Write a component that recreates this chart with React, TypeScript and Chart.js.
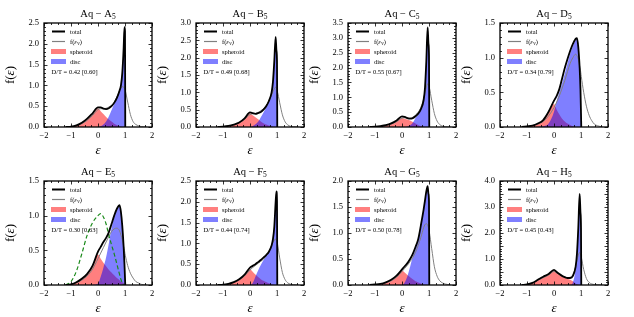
import React, { useEffect, useRef } from "react";
import { Chart, registerables } from "chart.js";
Chart.register(...registerables);

const FONT = "'Liberation Serif', 'Times New Roman', serif";

// shared epsilon grid
const X = [-1.2, -1.0, -0.8, -0.6, -0.4, -0.2, 0.0, 0.1, 0.2, 0.3, 0.4, 0.5, 0.6, 0.7, 0.8, 0.85, 0.9, 0.95, 0.98, 1.0, 1.01, 1.1, 1.2, 1.3, 1.4, 1.5, 1.6, 1.8];

const A_total = [0, 0.01, 0.04, 0.10, 0.20, 0.33, 0.47, 0.47, 0.44, 0.43, 0.45, 0.50, 0.58, 0.70, 0.88, 1.00, 1.30, 1.90, 2.40, 2.30, 0];
const A_sph = [0, 0.01, 0.04, 0.10, 0.19, 0.30, 0.45, 0.38, 0.31, 0.24, 0.18, 0.13, 0.08, 0.05, 0.02, 0.01, 0, 0, 0, 0, 0];
const A_disc = [0, 0, 0, 0, 0, 0, 0, 0.02, 0.06, 0.13, 0.25, 0.40, 0.55, 0.68, 0.86, 1.00, 1.30, 1.90, 2.40, 2.30, 0];
const A_fv = [0, 0.01, 0.03, 0.08, 0.16, 0.28, 0.42, 0.44, 0.44, 0.45, 0.48, 0.52, 0.60, 0.72, 0.88, 0.94, 0.97, 0.96, 0.93, 0.90, 0.88, 0.60, 0.30, 0.13, 0.06, 0.03, 0.01, 0];

const B_total = [0, 0.01, 0.03, 0.07, 0.13, 0.25, 0.42, 0.40, 0.38, 0.40, 0.43, 0.50, 0.60, 0.75, 1.00, 1.30, 1.90, 2.60, 2.20, 1.90, 0];
const B_sph = [0, 0.01, 0.03, 0.07, 0.13, 0.24, 0.40, 0.34, 0.28, 0.22, 0.16, 0.11, 0.07, 0.04, 0.02, 0.01, 0, 0, 0, 0, 0];
const B_disc = [0, 0, 0, 0, 0, 0, 0, 0.03, 0.08, 0.15, 0.28, 0.42, 0.57, 0.74, 1.00, 1.30, 1.90, 2.60, 2.20, 1.90, 0];
const B_fv = [0, 0.01, 0.03, 0.06, 0.12, 0.22, 0.36, 0.38, 0.39, 0.42, 0.47, 0.53, 0.62, 0.75, 0.92, 1.02, 1.10, 1.15, 1.12, 1.08, 1.05, 0.70, 0.35, 0.15, 0.06, 0.02, 0.01, 0];

const C_total = [0, 0.01, 0.03, 0.06, 0.12, 0.22, 0.36, 0.34, 0.30, 0.28, 0.30, 0.36, 0.45, 0.60, 0.90, 1.30, 2.20, 3.35, 2.80, 2.40, 0];
const C_sph = [0, 0.01, 0.03, 0.06, 0.11, 0.20, 0.30, 0.28, 0.25, 0.22, 0.17, 0.12, 0.07, 0.03, 0.01, 0, 0, 0, 0, 0, 0];
const C_disc = [0, 0, 0, 0, 0, 0, 0, 0, 0.02, 0.06, 0.14, 0.30, 0.42, 0.58, 0.88, 1.30, 2.20, 3.35, 2.80, 2.40, 0];
const C_fv = [0, 0.01, 0.02, 0.05, 0.10, 0.18, 0.30, 0.31, 0.30, 0.30, 0.33, 0.40, 0.50, 0.66, 0.95, 1.15, 1.35, 1.45, 1.42, 1.38, 1.35, 0.90, 0.45, 0.20, 0.08, 0.03, 0.01, 0];

const D_total = [0, 0.01, 0.02, 0.05, 0.10, 0.22, 0.38, 0.45, 0.55, 0.70, 0.85, 0.98, 1.10, 1.20, 1.27, 1.28, 1.15, 0.85, 0.55, 0.20, 0];
const D_sph = [0, 0.01, 0.02, 0.05, 0.10, 0.20, 0.33, 0.25, 0.18, 0.12, 0.08, 0.05, 0.03, 0.01, 0, 0, 0, 0, 0, 0, 0];
const D_disc = [0, 0, 0, 0, 0.01, 0.05, 0.22, 0.38, 0.50, 0.63, 0.77, 0.92, 1.06, 1.17, 1.25, 1.27, 1.15, 0.85, 0.55, 0.20, 0];
const D_fv = [0, 0.01, 0.02, 0.04, 0.08, 0.16, 0.28, 0.36, 0.45, 0.56, 0.67, 0.80, 0.92, 1.00, 1.05, 1.03, 0.98, 0.88, 0.82, 0.76, 0.73, 0.50, 0.30, 0.17, 0.09, 0.04, 0.02, 0];

const E_total = [0, 0.01, 0.04, 0.09, 0.16, 0.28, 0.48, 0.55, 0.62, 0.68, 0.76, 0.88, 1.00, 1.10, 1.15, 1.05, 0.85, 0.55, 0.30, 0.10, 0];
const E_sph = [0, 0.01, 0.04, 0.09, 0.16, 0.27, 0.44, 0.38, 0.32, 0.27, 0.22, 0.18, 0.14, 0.10, 0.07, 0.05, 0.04, 0.03, 0.02, 0.02, 0];
const E_disc = [0, 0, 0, 0, 0, 0, 0.02, 0.12, 0.25, 0.40, 0.60, 0.82, 0.98, 1.08, 1.14, 1.05, 0.85, 0.55, 0.30, 0.10, 0];
const E_fv = [0, 0.01, 0.03, 0.07, 0.13, 0.23, 0.38, 0.46, 0.54, 0.62, 0.70, 0.77, 0.81, 0.82, 0.78, 0.72, 0.65, 0.55, 0.50, 0.45, 0.43, 0.28, 0.17, 0.10, 0.05, 0.03, 0.01, 0];
const E_model = [0, 0.05, 0.20, 0.45, 0.72, 0.90, 1.00, 1.03, 0.98, 0.88, 0.72, 0.58, 0.45, 0.30, 0.15, 0.08, 0.03, 0];

const F_total = [0, 0.01, 0.03, 0.07, 0.14, 0.25, 0.42, 0.46, 0.50, 0.55, 0.60, 0.66, 0.72, 0.80, 0.95, 1.10, 1.40, 2.00, 2.25, 2.00, 0];
const F_sph = [0, 0.01, 0.03, 0.07, 0.13, 0.23, 0.38, 0.32, 0.25, 0.19, 0.14, 0.10, 0.07, 0.04, 0.02, 0.01, 0, 0, 0, 0, 0];
const F_disc = [0, 0, 0, 0, 0, 0, 0, 0.05, 0.20, 0.35, 0.48, 0.60, 0.70, 0.78, 0.93, 1.08, 1.38, 2.00, 2.25, 2.00, 0];
const F_fv = [0, 0.01, 0.03, 0.06, 0.12, 0.22, 0.36, 0.42, 0.47, 0.52, 0.57, 0.62, 0.70, 0.80, 0.95, 1.02, 1.08, 1.10, 1.08, 1.05, 1.02, 0.65, 0.30, 0.13, 0.05, 0.02, 0.01, 0];

const G_total = [0, 0.01, 0.02, 0.05, 0.10, 0.18, 0.30, 0.36, 0.42, 0.50, 0.60, 0.73, 0.88, 1.15, 1.45, 1.62, 1.80, 1.90, 1.75, 1.60, 0];
const G_sph = [0, 0.01, 0.02, 0.05, 0.09, 0.16, 0.28, 0.24, 0.19, 0.15, 0.11, 0.07, 0.05, 0.03, 0.01, 0, 0, 0, 0, 0, 0];
const G_disc = [0, 0, 0, 0, 0, 0, 0, 0.05, 0.17, 0.35, 0.55, 0.70, 0.86, 1.12, 1.43, 1.60, 1.78, 1.90, 1.75, 1.60, 0];
const G_fv = [0, 0.01, 0.02, 0.04, 0.08, 0.15, 0.26, 0.32, 0.38, 0.45, 0.53, 0.63, 0.76, 0.92, 1.10, 1.16, 1.18, 1.15, 1.10, 1.06, 1.03, 0.70, 0.35, 0.17, 0.08, 0.04, 0.02, 0];

const H_total = [0, 0.02, 0.08, 0.20, 0.32, 0.42, 0.58, 0.50, 0.42, 0.35, 0.30, 0.27, 0.27, 0.35, 0.70, 1.20, 2.20, 3.50, 2.80, 2.20, 0];
const H_sph = [0, 0.02, 0.07, 0.18, 0.30, 0.40, 0.55, 0.48, 0.40, 0.33, 0.28, 0.24, 0.20, 0.14, 0.06, 0.03, 0.01, 0, 0, 0, 0];
const H_disc = [0, 0, 0, 0, 0, 0, 0, 0, 0, 0, 0, 0, 0, 0.10, 0.60, 1.15, 2.20, 3.50, 2.80, 2.20, 0];
const H_fv = [0, 0.02, 0.07, 0.18, 0.28, 0.38, 0.52, 0.46, 0.40, 0.34, 0.30, 0.28, 0.30, 0.40, 0.70, 0.95, 1.15, 1.25, 1.20, 1.12, 1.08, 0.60, 0.25, 0.10, 0.04, 0.02, 0.01, 0];

const NAMES = ["A", "B", "C", "D", "E", "F", "G", "H"];
const YMAX = [2.5, 3.0, 3.5, 1.5, 1.5, 2.5, 2.0, 4.0];
const DT = ["0.42 [0.60]", "0.49 [0.68]", "0.55 [0.67]", "0.34 [0.79]", "0.30 [0.63]", "0.44 [0.74]", "0.50 [0.78]", "0.45 [0.43]"];
const TOTALS = [A_total, B_total, C_total, D_total, E_total, F_total, G_total, H_total];
const SPHS = [A_sph, B_sph, C_sph, D_sph, E_sph, F_sph, G_sph, H_sph];
const DISCS = [A_disc, B_disc, C_disc, D_disc, E_disc, F_disc, G_disc, H_disc];
const FVS = [A_fv, B_fv, C_fv, D_fv, E_fv, F_fv, G_fv, H_fv];
const MODELS: (number[] | null)[] = [null, null, null, null, E_model, null, null, null];

type Seg = { t: string; size: number; italic?: boolean; dy?: number };

function drawRich(ctx: CanvasRenderingContext2D, segs: Seg[], x: number, y: number, align: "left" | "center") {
  ctx.textBaseline = "alphabetic";
  ctx.textAlign = "left";
  let w = 0;
  for (const s of segs) {
    ctx.font = `${s.italic ? "italic " : ""}${s.size}px ${FONT}`;
    w += ctx.measureText(s.t).width;
  }
  let cx = align === "center" ? x - w / 2 : x;
  for (const s of segs) {
    ctx.font = `${s.italic ? "italic " : ""}${s.size}px ${FONT}`;
    ctx.fillText(s.t, cx, y + (s.dy || 0));
    cx += ctx.measureText(s.t).width;
  }
}

const pts = (arr: number[]) => arr.map((y, i) => ({ x: X[i], y }));

function makeDecor(idx: number) {
  return {
    id: "decor" + idx,
    afterDraw(chart: any) {
      const { ctx, chartArea: a, scales } = chart;
      const xs = scales.x;
      const ys = scales.y;
      const ymax = YMAX[idx];
      ctx.save();
      ctx.strokeStyle = "#000";
      ctx.lineWidth = 0.8;
      ctx.beginPath();
      for (let i = 0; i <= 16; i++) {
        const v = -2 + i * 0.25;
        const px = Math.round(xs.getPixelForValue(v)) + 0.5;
        const L = i % 4 === 0 ? 3.5 : 2;
        ctx.moveTo(px, a.bottom);
        ctx.lineTo(px, a.bottom - L);
        ctx.moveTo(px, a.top);
        ctx.lineTo(px, a.top + L);
      }
      const nY = Math.round(ymax / 0.1);
      for (let i = 0; i <= nY; i++) {
        const v = i * 0.1;
        const py = Math.round(ys.getPixelForValue(v)) + 0.5;
        const L = i % 5 === 0 ? 3.5 : 2;
        ctx.moveTo(a.left, py);
        ctx.lineTo(a.left + L, py);
        ctx.moveTo(a.right, py);
        ctx.lineTo(a.right - L, py);
      }
      ctx.stroke();
      ctx.lineWidth = 1.3;
      ctx.strokeRect(a.left, a.top, a.right - a.left, a.bottom - a.top);

      // legend
      const lx = a.left;
      const ty = a.top;
      ctx.lineWidth = 2;
      ctx.strokeStyle = "#000";
      ctx.beginPath();
      ctx.moveTo(lx + 8, ty + 8.5);
      ctx.lineTo(lx + 21, ty + 8.5);
      ctx.stroke();
      ctx.lineWidth = 1.2;
      ctx.strokeStyle = "#808080";
      ctx.beginPath();
      ctx.moveTo(lx + 8, ty + 18.5);
      ctx.lineTo(lx + 21, ty + 18.5);
      ctx.stroke();
      ctx.fillStyle = "rgba(255,0,0,0.5)";
      ctx.fillRect(lx + 7, ty + 26, 15, 5);
      ctx.fillStyle = "rgba(0,0,255,0.5)";
      ctx.fillRect(lx + 7, ty + 36, 15, 5);
      ctx.fillStyle = "#000";
      const fs = 6.5;
      drawRich(ctx, [{ t: "total", size: fs }], lx + 26, ty + 10.7, "left");
      drawRich(ctx, [
        { t: "f(", size: fs },
        { t: "ε", size: fs, italic: true },
        { t: "V", size: 4.6, italic: true, dy: 1.3 },
        { t: ")", size: fs },
      ], lx + 26, ty + 20.7, "left");
      drawRich(ctx, [{ t: "spheroid", size: fs }], lx + 26, ty + 30.7, "left");
      drawRich(ctx, [{ t: "disc", size: fs }], lx + 26, ty + 40.7, "left");
      drawRich(ctx, [{ t: "D/T = " + DT[idx], size: fs }], lx + 7.5, ty + 51.2, "left");

      // title
      const cx = (a.left + a.right) / 2;
      drawRich(ctx, [
        { t: "Aq \u2212 " + NAMES[idx], size: 10.5 },
        { t: "5", size: 7.5, dy: 2 },
      ], cx, 16.5, "center");

      // x label
      drawRich(ctx, [{ t: "ε", size: 13, italic: true }], cx, 153.5, "center");

      // y label
      ctx.save();
      ctx.translate(14, (a.top + a.bottom) / 2);
      ctx.rotate(-Math.PI / 2);
      drawRich(ctx, [
        { t: "f(", size: 13 },
        { t: "ε", size: 13, italic: true },
        { t: ")", size: 13 },
      ], 0, 0, "center");
      ctx.restore();
      ctx.restore();
    },
  };
}

const W = 162;
const H = 159;

function Panel({ idx }: { idx: number }) {
  const ref = useRef<HTMLCanvasElement>(null);
  useEffect(() => {
    const model = MODELS[idx];
    const datasets: any[] = [
      { label: "total", data: pts(TOTALS[idx]), borderColor: "#000", borderWidth: 1.8, fill: false, order: 0 },
    ];
    if (model) {
      datasets.push({ label: "model", data: pts(model), borderColor: "#1a8a1a", borderWidth: 1.2, borderDash: [4, 2.5], fill: false, order: 1 });
    }
    datasets.push(
      { label: "f(eV)", data: pts(FVS[idx]), borderColor: "#808080", borderWidth: 1, fill: false, order: 2 },
      { label: "disc", data: pts(DISCS[idx]), borderColor: "rgba(0,0,0,0)", borderWidth: 0, backgroundColor: "rgba(0,0,255,0.5)", fill: "origin", order: 3 },
      { label: "spheroid", data: pts(SPHS[idx]), borderColor: "rgba(0,0,0,0)", borderWidth: 0, backgroundColor: "rgba(255,0,0,0.5)", fill: "origin", order: 4 },
    );
    const chart = new Chart(ref.current!, {
      type: "line",
      data: { datasets },
      options: {
        animation: false,
        responsive: false,
        devicePixelRatio: 1,
        layout: { padding: { left: 0, top: 23, right: 10, bottom: 0 } },
        elements: { point: { radius: 0 }, line: { cubicInterpolationMode: "monotone" } },
        plugins: { legend: { display: false }, tooltip: { enabled: false }, title: { display: false } },
        scales: {
          x: {
            type: "linear",
            min: -2,
            max: 2,
            grid: { display: false, drawTicks: false },
            border: { display: false },
            ticks: {
              stepSize: 1,
              padding: 4,
              color: "#000",
              font: { family: FONT, size: 8.5 },
              maxRotation: 0,
              callback: (v: any) => (Number(v) < 0 ? "\u2212" + Math.abs(Number(v)) : String(v)),
            },
            afterFit: (s: any) => { s.height = 32; },
          },
          y: {
            type: "linear",
            min: 0,
            max: YMAX[idx],
            grid: { display: false, drawTicks: false },
            border: { display: false },
            ticks: {
              stepSize: 0.5,
              padding: 5,
              color: "#000",
              font: { family: FONT, size: 8.5 },
              callback: (v: any) => Number(v).toFixed(1),
            },
            afterFit: (s: any) => { s.width = 44; },
          },
        },
      },
      plugins: [makeDecor(idx)],
    } as any);
    return () => chart.destroy();
  }, [idx]);
  const col = idx % 4;
  const row = Math.floor(idx / 4);
  return (
    <canvas
      ref={ref}
      width={W}
      height={H}
      style={{ position: "absolute", left: col * 152, top: row * 158, width: W, height: H }}
    />
  );
}

export default function App() {
  return (
    <div style={{ position: "absolute", left: 0, top: 0, width: 634, height: 317, background: "#fff", overflow: "hidden" }}>
      {NAMES.map((_, i) => (
        <Panel key={i} idx={i} />
      ))}
    </div>
  );
}
